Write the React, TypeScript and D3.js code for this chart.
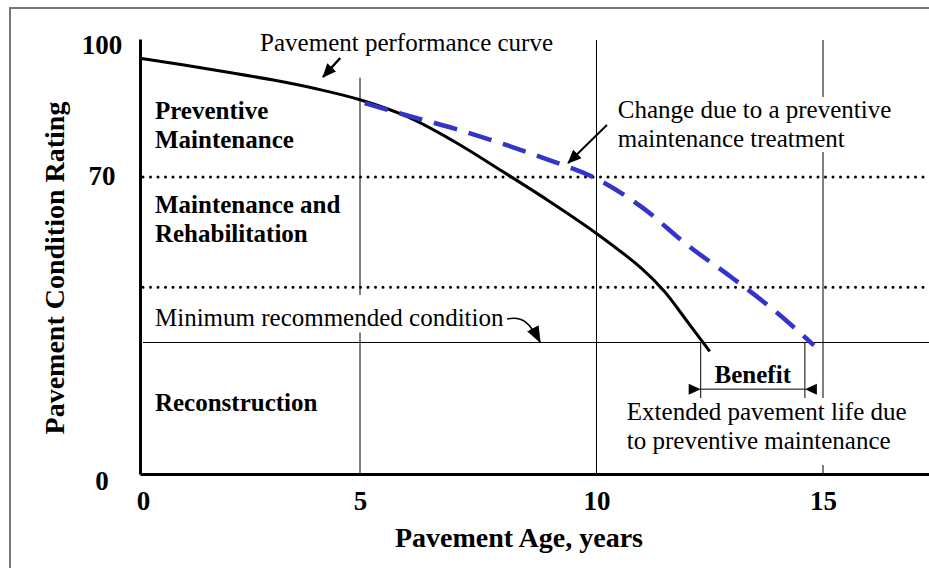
import React, { useEffect, useRef } from 'react';
import * as d3 from 'd3';

// axis ticks
const ageTicks = [0, 5, 10, 15];
const ratingTicks = [0, 70, 100];

// zone boundaries (dotted) and minimum recommended condition
const zoneLimits = [70, 44];
const minCondition = 31;

// pavement performance curve, no treatment
const perfAges = [0, 1, 2, 3, 4, 5, 6, 7, 8, 9, 10, 11, 11.5, 12, 12.5];
const perfRatings = [98, 96.4, 94.7, 92.9, 90.8, 88.2, 84.2, 78.3, 71.4, 64.3, 56.7, 48.4, 43.0, 36.0, 28.9];

// curve after a preventive maintenance treatment at year 5
const pmAges = [5.1, 6, 7, 8, 9, 10, 11, 12, 13, 14, 14.8];
const pmRatings = [87.4, 84.5, 81.4, 77.9, 74.0, 69.6, 62.9, 54.0, 46.2, 37.9, 30.3];

// extended life bracket (years)
const benefitAges = [12.3, 14.6];

const W = 929;
const H = 568;
const FONT = "'Liberation Serif', 'Times New Roman', serif";

const Chart = () => {
    const ref = useRef<SVGSVGElement>(null);

    useEffect(() => {
        const svg = d3.select(ref.current);
        svg.selectAll('*').remove();

        const x = d3.scaleLinear()
            .domain([0, 5, 10, 15, 17.34])
            .range([140, 360, 596.5, 823, W]);
        const y = d3.scaleLinear()
            .domain([0, 102.5])
            .range([474, 39.1]);
        const labelY = d3.scaleLinear().domain([0, 100]).range([481, 45]);

        const defs = svg.append('defs');
        const marker = (id: string, len: number, wid: number) => {
            defs.append('marker')
                .attr('id', id)
                .attr('markerUnits', 'userSpaceOnUse')
                .attr('viewBox', `0 0 ${len} ${wid}`)
                .attr('markerWidth', len)
                .attr('markerHeight', wid)
                .attr('refX', len - 1)
                .attr('refY', wid / 2)
                .attr('orient', 'auto')
                .append('path')
                .attr('d', `M0,0L${len},${wid / 2}L0,${wid}Z`)
                .attr('fill', '#000');
        };
        marker('head', 14, 12);
        marker('headBig', 17, 13);

        // frame
        svg.append('path')
            .attr('d', `M10,${H}V8H${W}`)
            .attr('fill', 'none')
            .attr('stroke', '#777')
            .attr('stroke-width', 2);

        const gGrid = svg.append('g');
        const gMask = svg.append('g');
        const gRef = svg.append('g');
        const gCurve = svg.append('g');
        const gText = svg.append('g').attr('font-family', FONT);

        // vertical grid lines
        gGrid.selectAll('line')
            .data(ageTicks.slice(1))
            .join('line')
            .attr('x1', d => x(d)).attr('x2', d => x(d))
            .attr('y1', y(0)).attr('y2', y(102.3))
            .attr('stroke', '#000')
            .attr('stroke-width', 1);

        // dotted zone limits
        gRef.selectAll('line.zone')
            .data(zoneLimits)
            .join('line')
            .attr('class', 'zone')
            .attr('x1', x(0) + 3).attr('x2', W)
            .attr('y1', d => y(d)).attr('y2', d => y(d))
            .attr('stroke', '#000')
            .attr('stroke-width', 3)
            .attr('stroke-linecap', 'round')
            .attr('stroke-dasharray', '0 7.5');

        // minimum recommended condition
        gRef.append('line')
            .attr('x1', x(0) + 3).attr('x2', W)
            .attr('y1', y(minCondition)).attr('y2', y(minCondition))
            .attr('stroke', '#000')
            .attr('stroke-width', 1);

        // benefit bracket
        const [b0, b1] = benefitAges.map(a => x(a));
        gRef.selectAll('line.bv')
            .data([b0, b1])
            .join('line')
            .attr('class', 'bv')
            .attr('x1', d => d).attr('x2', d => d)
            .attr('y1', y(minCondition)).attr('y2', y(17.9))
            .attr('stroke', '#000').attr('stroke-width', 1);
        const by = y(20);
        gRef.append('line')
            .attr('x1', b0).attr('x2', b1)
            .attr('y1', by).attr('y2', by)
            .attr('stroke', '#000').attr('stroke-width', 1);
        gRef.append('path')
            .attr('d', `M${b0},${by}L${b0 - 12},${by - 5.5}L${b0 - 12},${by + 5.5}Z`
                + `M${b1},${by}L${b1 + 12},${by - 5.5}L${b1 + 12},${by + 5.5}Z`)
            .attr('fill', '#000');

        // curves
        const line = d3.line<[number, number]>()
            .x(d => x(d[0]))
            .y(d => y(d[1]))
            .curve(d3.curveCatmullRom.alpha(0.5));

        gCurve.append('path')
            .attr('d', line(perfAges.map((a, i) => [a, perfRatings[i]])))
            .attr('fill', 'none')
            .attr('stroke', '#000')
            .attr('stroke-width', 3);

        gCurve.append('path')
            .attr('d', line(pmAges.map((a, i) => [a, pmRatings[i]])))
            .attr('fill', 'none')
            .attr('stroke', '#3434c8')
            .attr('stroke-width', 4.5)
            .attr('stroke-dasharray', '24 12');

        // axes
        const xAxis = svg.append('g')
            .attr('transform', `translate(0,${y(0)})`)
            .call(d3.axisBottom(x).tickValues(ageTicks).tickSize(0).tickPadding(17).tickFormat(d3.format('d')));
        xAxis.select('.domain').attr('stroke-width', 3).attr('stroke', '#000');
        xAxis.selectAll('text')
            .attr('font-family', FONT).attr('font-size', 27).attr('font-weight', 'bold')
            .attr('fill', '#000')
            .attr('dx', (d: any) => (d === 0 ? 3 : 0));

        const yAxis = svg.append('g')
            .attr('transform', `translate(${x(0)},0)`)
            .call(d3.axisLeft(y).tickValues(ratingTicks).tickSize(0).tickPadding(38).tickFormat(d3.format('d')));
        yAxis.select('.domain').attr('stroke-width', 3).attr('stroke', '#000');
        yAxis.selectAll('.tick').attr('transform', null);
        yAxis.selectAll('text')
            .attr('font-family', FONT).attr('font-size', 27).attr('font-weight', 'bold')
            .attr('fill', '#000')
            .attr('text-anchor', 'middle')
            .attr('y', (d: any) => labelY(d))
            .attr('dy', '0.35em');

        // axis titles
        gText.append('text')
            .attr('x', 519).attr('y', 546.7)
            .attr('text-anchor', 'middle')
            .attr('font-size', 28).attr('font-weight', 'bold')
            .text('Pavement Age, years');
        gText.append('text')
            .attr('transform', 'translate(64,268) rotate(-90)')
            .attr('text-anchor', 'middle')
            .attr('font-size', 28).attr('font-weight', 'bold')
            .text('Pavement Condition Rating');

        // text helper with optional knock-out behind it
        const addText = (lines: string[], age: number, rating: number, opt: any = {}) => {
            const t = gText.append('text')
                .attr('x', x(age)).attr('y', y(rating))
                .attr('font-size', opt.size || 25)
                .attr('font-weight', opt.bold ? 'bold' : 'normal')
                .attr('text-anchor', opt.anchor || 'start');
            lines.forEach((s, i) => {
                t.append('tspan')
                    .attr('x', x(age))
                    .attr('dy', i === 0 ? 0 : 29)
                    .text(s);
            });
            if (opt.knock) {
                const bb = (t.node() as SVGTextElement).getBBox();
                const [pt, pb] = opt.knock;
                gMask.append('rect')
                    .attr('x', bb.x - 3).attr('y', bb.y - pt)
                    .attr('width', bb.width + 6).attr('height', bb.height + pt + pb)
                    .attr('fill', '#fff');
            }
        };

        addText(['Preventive', 'Maintenance'], 0.34, 83.67, { bold: true });
        addText(['Maintenance and', 'Rehabilitation'], 0.34, 61.51, { bold: true });
        addText(['Reconstruction'], 0.34, 14.85, { bold: true });

        addText(['Pavement performance curve'], 2.73, 99.77, { knock: [2, 22] });
        addText(['Change due to a preventive', 'maintenance treatment'], 10.47, 83.9, { knock: [-1, 0] });
        addText(['Minimum recommended condition'], 0.34, 34.88, { knock: [9, 1.5] });
        addText(['Benefit'], (benefitAges[0] + benefitAges[1]) / 2, 21.45, { bold: true, anchor: 'middle' });
        addText(['Extended pavement life due', 'to preventive maintenance'], 10.67, 12.73, { knock: [0, 11] });

        // arrows
        const gArrow = svg.append('g')
            .attr('fill', 'none')
            .attr('stroke', '#000');
        gArrow.append('path')
            .attr('d', `M${x(4.55)},${y(98.04)}L${x(4.16)},${y(93.57)}`)
            .attr('stroke-width', 2.5)
            .attr('marker-end', 'url(#head)');
        gArrow.append('path')
            .attr('d', `M${x(10.23)},${y(82.26)}L${x(9.4)},${y(73.3)}`)
            .attr('stroke-width', 2)
            .attr('marker-end', 'url(#head)');
        gArrow.append('path')
            .attr('d', `M${x(8.11)},${y(36.53)}C${x(8.45)},${y(37.3)} ${x(8.6)},${y(35.5)} ${x(8.81)},${y(minCondition)}`)
            .attr('stroke-width', 1.5)
            .attr('marker-end', 'url(#headBig)');
    }, []);

    return (
        <svg
            ref={ref}
            width={W}
            height={H}
            style={{ position: 'absolute', left: 0, top: 0, background: '#fff' }}
        />
    );
};

export default function App() {
    return <Chart />;
}
